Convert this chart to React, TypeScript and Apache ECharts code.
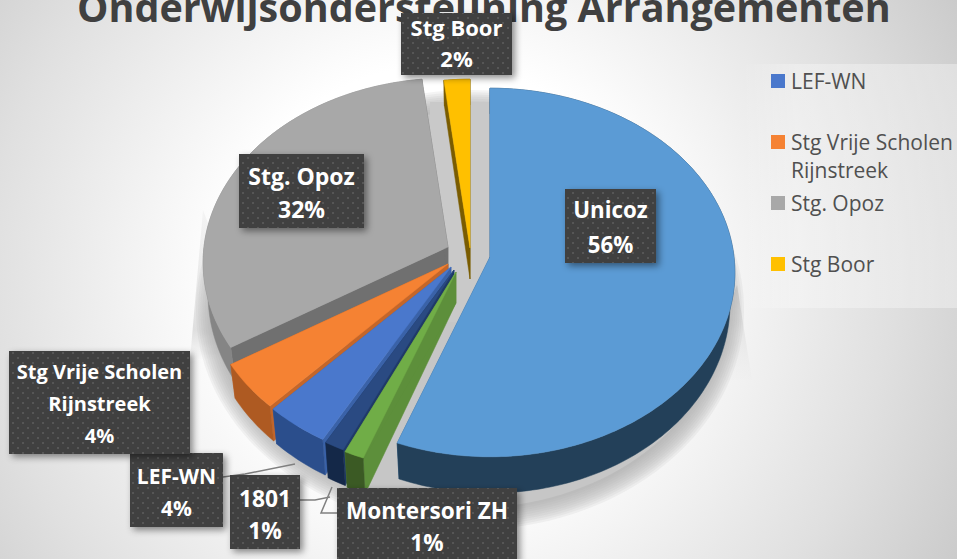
import React, { useEffect, useRef } from "react";
import * as echarts from "echarts";

const TITLE = "Onderwijsondersteuning Arrangementen";
// clockwise from 12 o'clock
const names = ["Unicoz", "Montersori ZH", "1801", "LEF-WN", "Stg Vrije Scholen Rijnstreek", "Stg. Opoz", "Stg Boor"];
const values = [55.7, 1.2, 1.2, 3.9, 4.2, 31.95, 1.85];
const percentLabels = ["56%", "1%", "1%", "4%", "4%", "32%", "2%"];
const legendNames = ["LEF-WN", "Stg Vrije Scholen Rijnstreek", "Stg. Opoz", "Stg Boor"];

const topColors = ["#5B9BD5", "#70AD47", "#2A4A82", "#4A78CC", "#F58233", "#A8A8A8", "#FFC000"];
const outerWallColors = ["#234059", "#3B5A24", "#142848", "#2B4E8C", "#AE5A22", "#858585", "#7A5C00"];
const radialWallColors = ["#2F5F8A", "#5D8F3B", "#1F3A68", "#3A62A8", "#C4662A", "#707070", "#7A5C00"];
// each exploded slice's apex on the page
const apexes = [[490, 257], [456, 272], [454, 270], [451, 267], [448, 264], [448, 247], [470, 248]];
const paintOrder = [6, 5, 4, 3, 2, 1, 0];

const RX = 244, RY = 183, K = 0.084, DEPTH = 31, BOTTOM_SHRINK = 0.02;

const project = (ax: number, ay: number, deg: number, r: number) => {
  const t = (deg * Math.PI) / 180;
  const u = Math.sin(t) * r;
  const v = -Math.cos(t) * r;
  const p = 1 / (1 - K * v);
  return { x: ax + RX * u * p, y: ay + RY * v * p, d: DEPTH * (1 + 0.17 * v) };
};

const sliceShapes = (idx: number, startPct: number, pct: number) => {
  const [ax, ay] = apexes[idx];
  const a0 = (startPct / 100) * 360;
  const a1 = ((startPct + pct) / 100) * 360;
  const arc: { x: number; y: number; d: number }[] = [];
  const n = Math.max(4, Math.ceil(a1 - a0));
  for (let i = 0; i <= n; i++) arc.push(project(ax, ay, a0 + ((a1 - a0) * i) / n, 1));
  const top = [[ax, ay], ...arc.map((q) => [q.x, q.y])];
  const lo = (q: { x: number; y: number; d: number }) => [q.x - (q.x - ax) * BOTTOM_SHRINK, q.y + q.d];
  const outer = [...arc.map((q) => [q.x, q.y]), ...arc.slice().reverse().map(lo)];
  const first = arc[0];
  const last = arc[arc.length - 1];
  const wallA = [[ax, ay], [first.x, first.y], lo(first), [ax, ay + DEPTH]];
  const wallB = [[ax, ay], [last.x, last.y], lo(last), [ax, ay + DEPTH]];
  return { top, outer, wallA, wallB };
};

// label boxes
const labelBoxes = [
  { i: 0, x: 565, y: 189, w: 91, h: 74, t: "Unicoz", fs: 22.3, lh: 35, dy: 1 },
  { i: 1, x: 337, y: 488, w: 180, h: 74, t: "Montersori ZH", fs: 22.6, lh: 32, dy: 1 },
  { i: 2, x: 230, y: 475, w: 70, h: 74, t: "1801", fs: 22.8, lh: 32, dy: 2 },
  { i: 3, x: 130, y: 453, w: 93, h: 74, t: "LEF-WN", fs: 21, lh: 32, dy: 1.5 },
  { i: 4, x: 9, y: 351, w: 181, h: 103, t: "Stg Vrije Scholen\nRijnstreek", fs: 20, lh: 32, dy: 0.5 },
  { i: 5, x: 239, y: 154, w: 125, h: 74, t: "Stg. Opoz", fs: 23, lh: 33, dy: 1 },
  { i: 6, x: 401, y: 13, w: 111, h: 62, t: "Stg Boor", fs: 22, lh: 31, dy: -1.5 },
];
const leaders = [
  [[223, 477], [245, 474], [295, 464]],
  [[297, 500], [315, 500], [330, 497]],
  [[337, 513], [321, 513], [332, 487]],
];

const makePattern = () => {
  const c = document.createElement("canvas");
  c.width = 10;
  c.height = 10;
  const g = c.getContext("2d")!;
  g.fillStyle = "#404040";
  g.fillRect(0, 0, 10, 10);
  g.fillStyle = "#565656";
  g.fillRect(2, 2, 2, 2);
  g.fillRect(7, 7, 2, 2);
  return c;
};

export default function App() {
  const ref = useRef<HTMLDivElement>(null);
  useEffect(() => {
    document.body.style.margin = "0";
    const chart = echarts.init(ref.current!, undefined, { renderer: "svg" });
    const starts: number[] = [];
    values.reduce((acc, v, i) => {
      starts[i] = acc;
      return acc + v;
    }, 0);
    const font = '"Open Sans", sans-serif';
    const pattern = makePattern();

    const sliceSeries = paintOrder.map((idx) => ({
      type: "custom",
      name: names[idx],
      coordinateSystem: "none",
      silent: true,
      itemStyle: { color: topColors[idx] },
      data: [[values[idx], starts[idx]]],
      renderItem: (_p: any, api: any) => {
        const s = sliceShapes(idx, api.value(1), api.value(0));
        const poly = (points: number[][], fill: string) => ({
          type: "polygon",
          shape: { points },
          style: { fill, stroke: fill, lineWidth: 0.5 },
        });
        return {
          type: "group",
          children: [
            poly(s.wallA, radialWallColors[idx]),
            poly(s.wallB, radialWallColors[idx]),
            poly(s.outer, outerWallColors[idx]),
            poly(s.top, topColors[idx]),
          ],
        };
      },
    }));

    const softRings = Array.from({ length: 10 }, (_, i) => ({
      type: "ellipse",
      shape: { cx: 470, cy: 310, rx: 274 - i * 2.2, ry: 220 - i * 2.2 },
      style: { fill: "rgba(170,170,170,0.13)" },
    }));

    const floorSeries = {
      type: "custom",
      name: "floor",
      coordinateSystem: "none",
      silent: true,
      data: [[0]],
      renderItem: () => ({
        type: "group",
        children: [
          {
            type: "polygon",
            shape: { points: [[203, 210], [190, 360], [260, 360]] },
            style: { fill: { type: "linear", x: 0, y: 0, x2: 0, y2: 1, colorStops: [{ offset: 0, color: "rgba(215,215,215,0.2)" }, { offset: 0.8, color: "rgba(205,205,205,0.6)" }, { offset: 1, color: "rgba(205,205,205,0)" }] } },
          },
          {
            type: "polygon",
            shape: { points: [[737, 285], [752, 380], [700, 380]] },
            style: { fill: { type: "linear", x: 0, y: 0, x2: 0, y2: 1, colorStops: [{ offset: 0, color: "rgba(205,205,205,0.9)" }, { offset: 1, color: "rgba(235,235,235,0.2)" }] } },
          },
          ...softRings,
          { type: "ellipse", shape: { cx: 470, cy: 310, rx: 252, ry: 198 }, style: { fill: "#c6c6c6" } },
          { type: "rect", shape: { x: 430, y: 102, width: 60, height: 220 }, style: { fill: "#c9c9c9" } },
        ],
      }),
    };

    const graphics: any[] = [
      {
        type: "rect",
        z: 0,
        silent: true,
        shape: { x: 742, y: 64, width: 215, height: 244 },
        style: {
          fill: {
            type: "linear", x: 0, y: 0, x2: 1, y2: 0,
            colorStops: [{ offset: 0, color: "rgba(255,255,255,0)" }, { offset: 0.25, color: "rgba(255,255,255,0.3)" }, { offset: 1, color: "rgba(255,255,255,0.35)" }],
          },
        },
      },
    ];
    leaders.forEach((points) => {
      graphics.push({ type: "polyline", z: 20, silent: true, shape: { points }, style: { stroke: "#808080", lineWidth: 1.5, fill: "none" } });
    });
    labelBoxes.forEach((b) => {
      graphics.push({
        type: "rect",
        z: 21,
        silent: true,
        shape: { x: b.x, y: b.y, width: b.w, height: b.h },
        style: { fill: { image: pattern, repeat: "repeat" }, shadowBlur: 7, shadowOffsetX: 3, shadowOffsetY: 3, shadowColor: "rgba(0,0,0,0.45)" },
      });
      graphics.push({
        type: "text",
        z: 22,
        silent: true,
        x: b.x + b.w / 2,
        y: b.y + b.h / 2 + b.dy,
        style: {
          text: `${b.t}\n${percentLabels[b.i]}`,
          fill: "#ffffff",
          font: `bold ${b.fs}px ${font}`,
          lineHeight: b.lh,
          align: "center",
          verticalAlign: "middle",
        },
      });
    });

    const LEG_LH = 28;
    const legends = legendNames.map((n, i) => {
      const wrapped = n.includes("Scholen ");
      return {
        show: true,
        data: [n],
        left: 771,
        top: 74 + i * 61 - (wrapped ? (3 * LEG_LH - 14) / 2 : (LEG_LH - 14) / 2),
        padding: 0,
        itemWidth: 14,
        itemHeight: 14,
        itemGap: 0,
        icon: "rect",
        selectedMode: false,
        formatter: (name: string) => (wrapped ? " \n" + name.replace("Scholen ", "Scholen\n") : name),
        textStyle: {
          color: "#505050",
          fontFamily: font,
          fontSize: 21,
          lineHeight: LEG_LH,
          padding: [0, 0, 0, 1],
        },
      };
    });

    chart.setOption({
      animation: false,
      title: {
        text: TITLE,
        left: 77,
        top: -13,
        padding: 0,
        textStyle: { color: "#404040", fontFamily: font, fontWeight: "bold", fontSize: 39.5 },
      },
      tooltip: { show: false },
      legend: legends,
      graphic: graphics,
      series: [floorSeries, ...sliceSeries],
    });
    return () => chart.dispose();
  }, []);
  return (
    <div
      ref={ref}
      style={{
        width: 957,
        height: 559,
        background:
          "radial-gradient(circle at 440px 280px, #ffffff 0px, #ffffff 215px, #e0e0e0 450px, #c6c6c6 620px)",
      }}
    />
  );
}
